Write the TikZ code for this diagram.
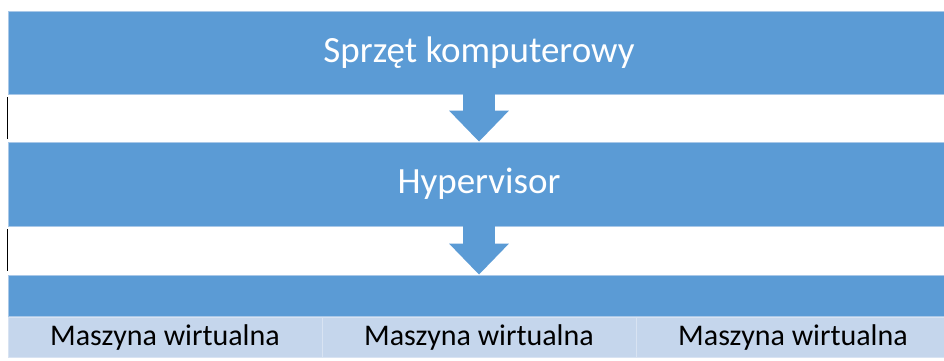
\documentclass[tikz,border=0pt]{standalone}
\usepackage{fontspec}
\setmainfont{Carlito}
\usetikzlibrary{arrows.meta}
\definecolor{mainblue}{HTML}{5B9BD5}
\definecolor{edgeblue}{HTML}{A9C8E8}
\definecolor{vmfill}{HTML}{C5D6EC}
\definecolor{vmedge}{HTML}{D8E3F2}
\begin{document}
\begin{tikzpicture}[x=1pt,y=-1pt,
  layerbox/.style={rectangle, fill=mainblue, draw=edgeblue, line width=0.8pt,
    minimum width=942pt, inner sep=0pt, text=white,
    font=\fontsize{37}{44}\selectfont},
  vmbox/.style={rectangle, fill=vmfill, draw=vmedge, line width=1pt,
    minimum width=314pt, minimum height=40pt, inner sep=0pt, text=black,
    font=\fontsize{30}{36}\selectfont},
  flowarrow/.style={draw=mainblue, line width=32pt,
    -{Triangle[width=58pt,length=31pt]}},
  mark line/.style={draw=black, line width=0.9pt}]
\useasboundingbox (0,0) rectangle (944,360);
\fill[white] (0,0) rectangle (944,360);
\node[layerbox, minimum height=83pt] (hw) at (479,52.5) {Sprzęt komputerowy};
\node[layerbox, minimum height=84pt] (hv) at (479,184) {Hypervisor};
\node[layerbox, minimum height=41pt] (vmlayer) at (479,295.5) {};
\node[vmbox] (vm1) at (165,337) {Maszyna wirtualna};
\node[vmbox] (vm2) at (479,337) {Maszyna wirtualna};
\node[vmbox] (vm3) at (793,337) {Maszyna wirtualna};
\draw[flowarrow] (hw.south) -- (hv.north);
\draw[flowarrow] (hv.south) -- (vmlayer.north);
\draw[mark line] (7.5,97) -- (7.5,139);
\draw[mark line] (7.5,229) -- (7.5,271);
\end{tikzpicture}
\end{document}
